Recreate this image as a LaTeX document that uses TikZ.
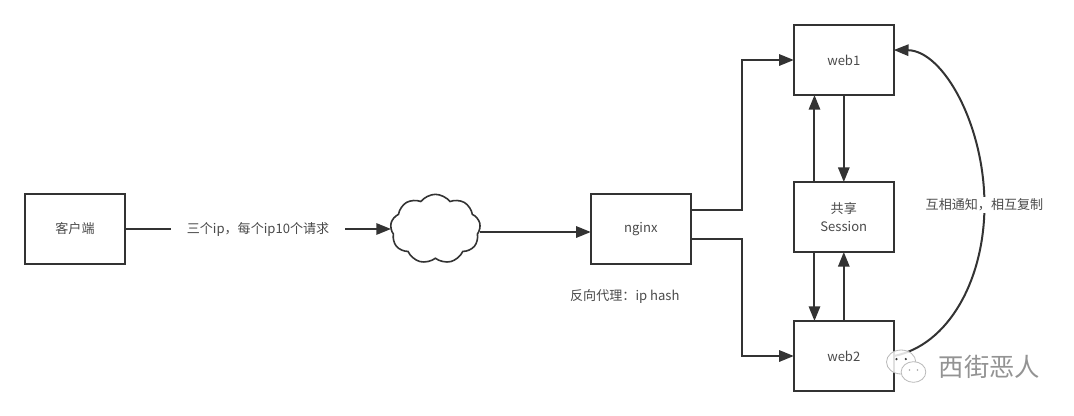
\documentclass[tikz,border=0pt]{standalone}
\usepackage{fontspec}
\setmainfont{Noto Sans CJK SC}
\usetikzlibrary{positioning, shapes.geometric, shapes.symbols, arrows.meta}
\definecolor{inkline}{HTML}{333333}
\definecolor{inktext}{HTML}{4A4A4A}

\begin{document}
\begin{tikzpicture}[
    >={Triangle[length=11pt,width=8.5pt]},
    every node/.style={font=\fontsize{9.8}{13}\selectfont, text=inktext, outer sep=0pt},
    boxnode/.style={draw=inkline, line width=1.5pt, minimum width=75pt, minimum height=52.5pt, align=center},
    link/.style={draw=inkline, line width=1.5pt, ->},
    bubble/.style={ellipse, draw=gray!55, line width=.6pt, fill=white, inner sep=0pt}
]
\useasboundingbox (0,0) rectangle (805.5pt,-311.25pt);

\node[boxnode] (client) at (56.25pt,-171.75pt) {客户端};
\node[cloud, draw=inkline, line width=1.2pt, cloud puffs=9, cloud puff arc=105, aspect=1.3, minimum width=67.5pt, minimum height=52pt, inner sep=0pt, right=199.5pt of client] (net) {};
\node[boxnode, right=83.25pt of net] (nginx) {nginx};
\node[boxnode, right=77.25pt of nginx, yshift=9pt] (session) {共享\\Session};
\node[boxnode, above=65.25pt of session] (web1) {web1};
\node[boxnode, below=51.75pt of session] (web2) {web2};
\node[below=16pt of nginx, xshift=-12pt] (hash) {反向代理：ip hash};

\draw[link] (client) -- node[fill=white, inner xsep=12pt, inner ysep=1pt] (iplabel) {三个ip，每个ip10个请求} (net);
\draw[link] ([yshift=-2.25pt]net.east) -- ([yshift=-2.25pt]nginx.west);
\draw[link] ([yshift=14.25pt]nginx.east) -- ++(38.25pt,0) |- (web1.west);
\draw[link] ([yshift=-7.5pt]nginx.east) -- ++(38.25pt,0) |- (web2.west);
\draw[link] ([xshift=-22pt]session.north) -- ([xshift=-22pt]web1.south);
\draw[link] (web1.south) -- (session.north);
\draw[link] ([xshift=-22pt]session.south) -- ([xshift=-22pt]web2.north);
\draw[link] (web2.north) -- (session.south);

\coordinate[right=68pt of session, yshift=9pt] (turn);
\draw[link] (web2.east) .. controls +(41pt,8pt) and ([yshift=-56pt]turn) .. (turn)
    .. controls ([yshift=60pt]turn) and ([xshift=37pt,yshift=7pt]web1.east) .. ([yshift=7.5pt]web1.east);
\node[fill=white, inner xsep=2pt, inner ysep=1pt] (notify) at (turn) {互相通知，相互复制};

\node[bubble, fill opacity=.85, minimum width=22pt, minimum height=18pt, right=-5.5pt of web2, yshift=-4.5pt] (bigbubble) {};
\node[bubble, minimum width=18.5pt, minimum height=15.5pt, right=5.5pt of web2, yshift=-12pt] (smallbubble) {};
\fill[black!80] ([xshift=-3.5pt,yshift=2.2pt]bigbubble.center) circle (.9pt);
\fill[black!80] ([xshift=3.5pt,yshift=2.2pt]bigbubble.center) circle (.9pt);
\fill[gray!70] ([xshift=-3pt,yshift=1.5pt]smallbubble.center) circle (.6pt);
\fill[gray!70] ([xshift=3pt,yshift=1.5pt]smallbubble.center) circle (.6pt);
\node[font=\fontsize{19}{22}\selectfont, text=gray!85, right=6.5pt of smallbubble.east, yshift=3.5pt] (mark) {西街恶人};
\end{tikzpicture}
\end{document}
